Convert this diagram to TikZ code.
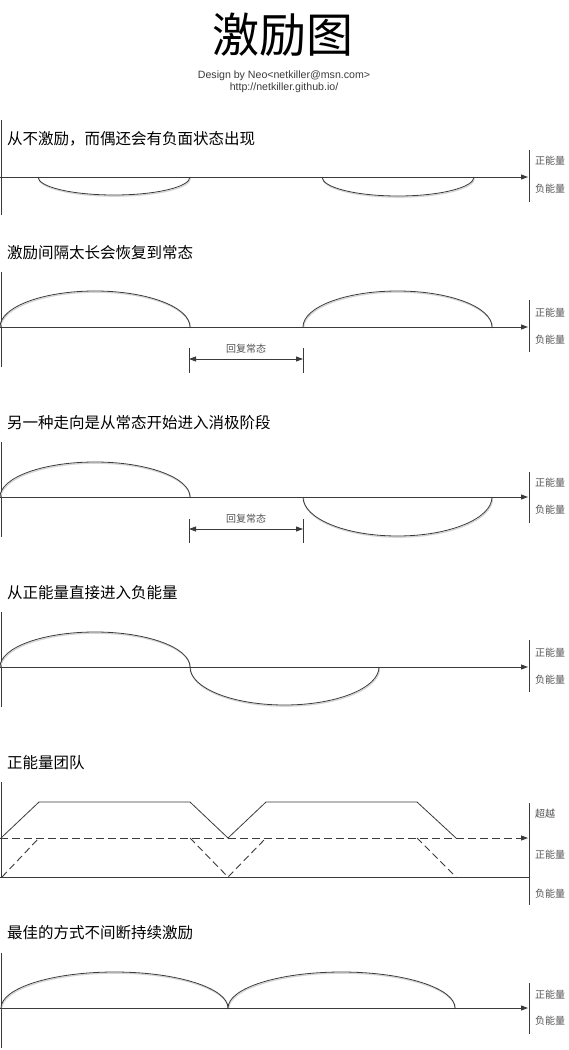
\documentclass[tikz,border=0pt]{standalone}
\usepackage{fontspec}
\setmainfont{Liberation Sans}
\newfontfamily\cjk{Noto Sans CJK SC}
\usetikzlibrary{arrows.meta}
\definecolor{ln}{HTML}{3A3A3A}
\definecolor{shd}{HTML}{D4D4D4}
\definecolor{lbc}{HTML}{555555}
\begin{document}
\begin{tikzpicture}[x=1pt,y=-1pt,
  headtip/.style={-{Triangle[length=7pt,width=5pt]}},
  ax/.style={draw=ln, line width=0.9pt, headtip},
  frame/.style={draw=ln, line width=1pt},
  curve/.style={draw=ln, line width=0.8pt, preaction={draw=shd, line width=1.2pt, transform canvas={shift={(0.6pt,-1.2pt)}}}},
  ramp/.style={draw=ln, line width=0.8pt},
  dashln/.style={draw=ln, line width=0.9pt, dash pattern=on 8pt off 4pt},
  dim/.style={draw=ln, line width=0.8pt, {Triangle[length=7pt,width=5pt]}-{Triangle[length=7pt,width=5pt]}},
  hd/.style={anchor=west, inner sep=0pt, font=\cjk\fontsize{15.5}{18}\selectfont},
  lb/.style={anchor=west, inner sep=0pt, text=lbc, font=\cjk\fontsize{10}{12}\selectfont},
  dl/.style={inner sep=0pt, text=lbc, font=\cjk\fontsize{10}{12}\selectfont},
  cr/.style={font=\fontsize{10.6}{12}\selectfont, text=ln, inner sep=0pt},
]
\useasboundingbox[fill=white] (0,0) rectangle (568,1050);

% title
\node[font=\cjk\fontsize{47}{52}\selectfont, inner sep=0pt] (title) at (283,35) {激励图};
\node[cr] (credit) at (284,76) {Design by Neo<netkiller@msn.com>};
\node[cr] (url) at (284,88) {http://netkiller.github.io/};

% ---------- panel 1 ----------
\node[hd] (h1) at (7,139) {从不激励，而偶还会有负面状态出现};
\coordinate (l1a) at (1,120); \coordinate (l1b) at (1,215);
\coordinate (a1s) at (0,177); \coordinate (a1e) at (528,177);
\coordinate (r1a) at (529,150); \coordinate (r1b) at (529,202);
\draw[frame] (l1a) -- (l1b);
\draw[frame] (r1a) -- (r1b);
\draw[curve] (38,177) arc[start angle=180,end angle=360,x radius=76pt,y radius=18pt];
\draw[curve] (322,177) arc[start angle=180,end angle=360,x radius=76pt,y radius=19pt];
\draw[ax] (a1s) -- (a1e);
\node[lb] (p1) at (535,161) {正能量};
\node[lb] (n1) at (535,189) {负能量};

% ---------- panel 2 ----------
\node[hd] (h2) at (7,253) {激励间隔太长会恢复到常态};
\coordinate (l2a) at (1,272); \coordinate (l2b) at (1,367);
\coordinate (a2s) at (0,327); \coordinate (a2e) at (528,327);
\coordinate (r2a) at (529,300); \coordinate (r2b) at (529,352);
\draw[frame] (l2a) -- (l2b);
\draw[frame] (r2a) -- (r2b);
\draw[curve] (0,327) arc[start angle=180,end angle=0,x radius=95pt,y radius=36pt];
\draw[curve] (303,327) arc[start angle=180,end angle=0,x radius=94.5pt,y radius=36pt];
\draw[ax] (a2s) -- (a2e);
\node[lb] (p2) at (535,313) {正能量};
\node[lb] (n2) at (535,340) {负能量};
\coordinate (d2a) at (189,348); \coordinate (d2b) at (189,373);
\coordinate (d2c) at (303,348); \coordinate (d2d) at (303,373);
\coordinate (d2l) at (189,359); \coordinate (d2r) at (303,359);
\draw[frame, line width=0.8pt] (d2a) -- (d2b);
\draw[frame, line width=0.8pt] (d2c) -- (d2d);
\draw[dim] (d2l) -- (d2r);
\node[dl] (t2) at (246,349) {回复常态};

% ---------- panel 3 ----------
\node[hd] (h3) at (7,423) {另一种走向是从常态开始进入消极阶段};
\coordinate (l3a) at (1,442); \coordinate (l3b) at (1,537);
\coordinate (a3s) at (0,497); \coordinate (a3e) at (528,497);
\coordinate (r3a) at (529,472); \coordinate (r3b) at (529,523);
\draw[frame] (l3a) -- (l3b);
\draw[frame] (r3a) -- (r3b);
\draw[curve] (0,497) arc[start angle=180,end angle=0,x radius=95pt,y radius=35pt];
\draw[curve] (303,497) arc[start angle=180,end angle=360,x radius=94.5pt,y radius=39pt];
\draw[ax] (a3s) -- (a3e);
\node[lb] (p3) at (535,483) {正能量};
\node[lb] (n3) at (535,510) {负能量};
\coordinate (d3a) at (189,519); \coordinate (d3b) at (189,543);
\coordinate (d3c) at (303,519); \coordinate (d3d) at (303,543);
\coordinate (d3l) at (189,529); \coordinate (d3r) at (303,529);
\draw[frame, line width=0.8pt] (d3a) -- (d3b);
\draw[frame, line width=0.8pt] (d3c) -- (d3d);
\draw[dim] (d3l) -- (d3r);
\node[dl] (t3) at (246,519) {回复常态};

% ---------- panel 4 ----------
\node[hd] (h4) at (7,593) {从正能量直接进入负能量};
\coordinate (l4a) at (1,612); \coordinate (l4b) at (1,707);
\coordinate (a4s) at (0,667); \coordinate (a4e) at (528,667);
\coordinate (r4a) at (529,640); \coordinate (r4b) at (529,692);
\draw[frame] (l4a) -- (l4b);
\draw[frame] (r4a) -- (r4b);
\draw[curve] (0,667) arc[start angle=180,end angle=0,x radius=95pt,y radius=35pt];
\draw[curve] (190,667) arc[start angle=180,end angle=360,x radius=94.5pt,y radius=38pt];
\draw[ax] (a4s) -- (a4e);
\node[lb] (p4) at (535,653) {正能量};
\node[lb] (n4) at (535,680) {负能量};

% ---------- panel 5 ----------
\node[hd] (h5) at (7,763) {正能量团队};
\coordinate (l5a) at (1,782); \coordinate (l5b) at (1,878);
\coordinate (r5a) at (529,803); \coordinate (r5b) at (529,905);
\coordinate (a5s) at (0,838); \coordinate (a5e) at (528,838);
\coordinate (b5s) at (0,877); \coordinate (b5e) at (529,877);
\draw[frame] (l5a) -- (l5b);
\draw[frame] (r5a) -- (r5b);
\draw[dashln, headtip] (a5s) -- (a5e);
\draw[frame, line width=0.9pt] (b5s) -- (b5e);
\draw[ramp] (1,838) -- (39,802) -- (190,802) -- (228,838) -- (266,802) -- (417,802) -- (456,838);
\draw[dashln, dash pattern=on 7pt off 4pt] (2,877) -- (39,838);
\draw[dashln, dash pattern=on 7pt off 4pt] (190,838) -- (228,877) -- (266,838);
\draw[dashln, dash pattern=on 7pt off 4pt] (417,838) -- (456,877);
\node[lb] (s5) at (535,814) {超越};
\node[lb] (p5) at (535,855) {正能量};
\node[lb] (n5) at (535,894) {负能量};

% ---------- panel 6 ----------
\node[hd] (h6) at (7,933) {最佳的方式不间断持续激励};
\coordinate (l6a) at (1,953); \coordinate (l6b) at (1,1048);
\coordinate (a6s) at (0,1008); \coordinate (a6e) at (528,1008);
\coordinate (r6a) at (529,983); \coordinate (r6b) at (529,1034);
\draw[frame] (l6a) -- (l6b);
\draw[frame] (r6a) -- (r6b);
\draw[curve] (1,1008) arc[start angle=180,end angle=0,x radius=113.5pt,y radius=36pt];
\draw[curve] (228,1008) arc[start angle=180,end angle=0,x radius=113.5pt,y radius=36pt];
\draw[ax] (a6s) -- (a6e);
\node[lb] (p6) at (535,995) {正能量};
\node[lb] (n6) at (535,1021) {负能量};
\end{tikzpicture}
\end{document}
